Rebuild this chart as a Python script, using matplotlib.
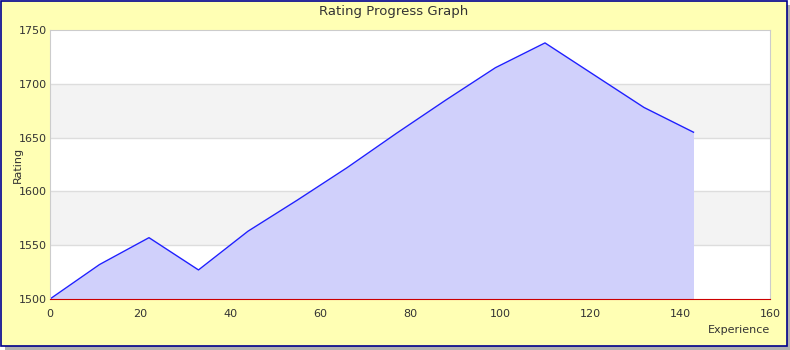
import matplotlib.pyplot as plt
from matplotlib.patches import Rectangle

experience = [0, 11, 22, 33, 44, 55, 66, 77, 88, 99, 110, 121, 132, 143]
rating = [1500, 1532, 1557, 1527, 1563, 1592, 1622, 1654, 1685, 1715, 1738, 1708, 1678, 1655]
bands = [(1550, 1600), (1650, 1700)]

W, H = 790, 350
fig = plt.figure(figsize=(W / 100, H / 100), dpi=100)
fig.patch.set_facecolor('white')

# shadow and frame
fig.patches.append(Rectangle((5 / W, 0), 785 / W, 345 / H, transform=fig.transFigure,
                             facecolor='#b0b0b0', edgecolor='none', zorder=-3))
fig.patches.append(Rectangle((1 / W, 4 / H), 786 / W, 345 / H, transform=fig.transFigure,
                             facecolor='#ffffb4', edgecolor='#00008b', linewidth=1.2, zorder=-2))

ax = fig.add_axes([50 / W, 1 - 299 / H, 720 / W, 269 / H])
ax.set_facecolor('white')
for lo, hi in bands:
    ax.axhspan(lo, hi, color='#f3f3f3', zorder=0, linewidth=0)
for y in [1550, 1600, 1650, 1700]:
    ax.axhline(y, color='#dddddd', linewidth=1, zorder=0.5)

ax.fill_between(experience, 1500, rating, color='#d0d0fb', linewidth=0, zorder=1)
ax.plot(experience, rating, color='#2020ff', linewidth=1, zorder=2)

ax.set_xlim(0, 160)
ax.set_ylim(1500, 1750)
ax.set_xticks(range(0, 161, 20))
ax.set_yticks(range(1500, 1751, 50))
ax.tick_params(length=0, labelsize=8, colors='#333333')
ax.tick_params(axis='y', pad=2)
ax.tick_params(axis='x', pad=7)

for s in ['top', 'left', 'right']:
    ax.spines[s].set_color('#cccccc')
ax.spines['bottom'].set_color('#cc0000')
ax.spines['bottom'].set_zorder(3)

fig.text(394 / W, 1 - 11 / H, 'Rating Progress Graph', ha='center', va='center',
         fontsize=9.5, color='#333333')
fig.text(18 / W, 1 - 165 / H, 'Rating', rotation=90, ha='center', va='center',
         fontsize=8, color='#333333')
fig.text(770 / W, 1 - 330 / H, 'Experience', ha='right', va='center',
         fontsize=8, color='#333333')

fig.savefig('out.png', dpi=100, facecolor=fig.get_facecolor())
